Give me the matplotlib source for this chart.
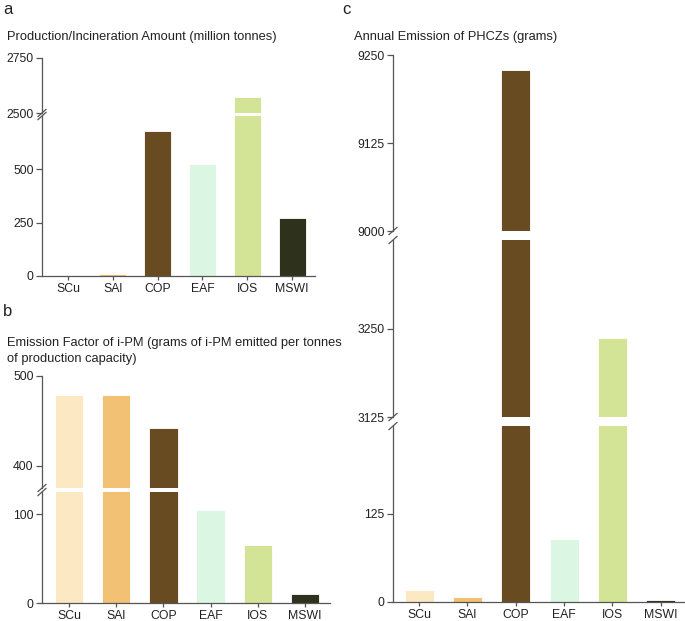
import matplotlib
matplotlib.use("Agg")
import matplotlib.pyplot as plt
from matplotlib.lines import Line2D

plt.rcParams['font.family'] = ['Liberation Sans', 'DejaVu Sans']

categories = ['SCu', 'SAl', 'COP', 'EAF', 'IOS', 'MSWI']
production = [3, 8, 682, 523, 2571, 272]
emission_factor = [479, 479, 442, 105, 65, 10]
annual_emission = [17, 7, 9229, 90, 3237, 2.5]
colors = ['#FCE9C3', '#F2C173', '#694B22', '#DBF7E3', '#D4E497', '#2E321C']

W, H = 685, 621
fig = plt.figure(figsize=(W / 100, H / 100), dpi=100)

SPINE = '#555555'
TXT = '#222222'
TICK_FS = 8.8
TITLE_FS = 9.3


def rect(x0, y0, x1, y1):
    return [x0 / W, 1 - y1 / H, (x1 - x0) / W, (y1 - y0) / H]


def slash(x, y, size=4):
    fig.add_artist(Line2D([(x - size) / W, (x + size) / W],
                          [1 - (y + size * 0.9) / H, 1 - (y - size * 0.9) / H],
                          color=SPINE, lw=0.9))


def make_panel(x0, x1, segments, values, xlim):
    axes = []
    n = len(segments)
    for i, (yt, yb, lim, ticks) in enumerate(segments):
        ax = fig.add_axes(rect(x0, yt, x1, yb))
        ax.bar(range(len(categories)), values, width=0.6, color=colors,
               edgecolor='white', linewidth=0.6)
        ax.set_ylim(*lim)
        ax.set_xlim(*xlim)
        ax.set_yticks(ticks)
        ax.set_yticklabels([str(t) for t in ticks], fontsize=TICK_FS, color=TXT)
        for s in ['top', 'right']:
            ax.spines[s].set_visible(False)
        ax.spines['left'].set_color(SPINE)
        ax.spines['left'].set_linewidth(0.9)
        ax.tick_params(axis='y', length=4, width=0.9, color=SPINE, pad=2)
        ax.patch.set_alpha(0)
        if i < n - 1:
            ax.spines['bottom'].set_visible(False)
            ax.set_xticks([])
        else:
            ax.spines['bottom'].set_color(SPINE)
            ax.spines['bottom'].set_linewidth(0.9)
            ax.set_xticks(range(len(categories)))
            ax.set_xticklabels(categories, fontsize=TICK_FS, color=TXT)
            ax.tick_params(axis='x', length=3, width=0.9, color=SPINE, pad=2)
        axes.append(ax)
    for i in range(n - 1):
        slash(x0, segments[i][1])
        slash(x0, segments[i + 1][0])
    return axes


# Panel a
make_panel(42, 315,
           [(58, 113, (2500, 2750), [2500, 2750]),
            (116, 276, (0, 750), [0, 250, 500])],
           production, (-0.58, 5.51))

# Panel b
make_panel(42, 330,
           [(376, 488, (375, 500), [400, 500]),
            (492, 603, (0, 125), [0, 100])],
           emission_factor, (-0.57, 5.53))

# Panel c
make_panel(393, 685,
           [(55, 231, (9000, 9250), [9000, 9125, 9250]),
            (240, 417, (3125, 3375), [3125, 3250]),
            (426, 602, (0, 250), [0, 125])],
           annual_emission, (-0.54, 5.5))


def ftext(x, y, s, size, **kw):
    fig.text(x / W, 1 - y / H, s, fontsize=size, color=TXT, va='center', ha='left', **kw)


ftext(3, 10, 'a', 12)
ftext(7, 37, 'Production/Incineration Amount (million tonnes)', TITLE_FS)
ftext(3, 311, 'b', 12)
ftext(7, 343, 'Emission Factor of i-PM (grams of i-PM emitted per tonnes', TITLE_FS)
ftext(7, 359, 'of production capacity)', TITLE_FS)
ftext(342, 10, 'c', 12)
ftext(354, 37, 'Annual Emission of PHCZs (grams)', TITLE_FS)

fig.savefig('out.png', dpi=100)
